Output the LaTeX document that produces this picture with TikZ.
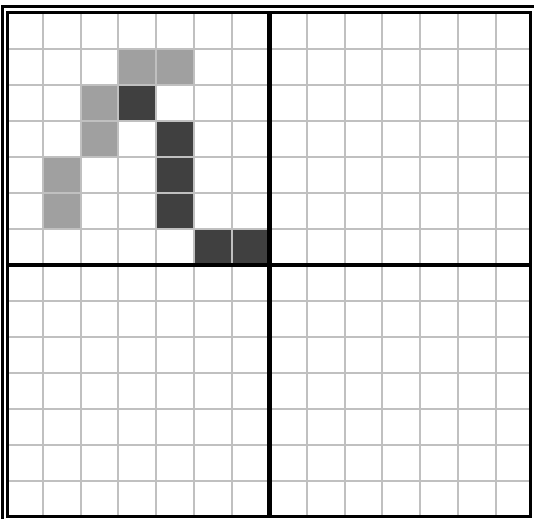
\documentclass[tikz,border=0pt]{standalone}
\definecolor{gridc}{HTML}{C0C0C0}
\definecolor{lightc}{HTML}{A0A0A0}
\definecolor{darkc}{HTML}{404040}
\tikzset{
  gridline/.style={draw=gridc, line width=2pt},
  axisline/.style={draw=black, line width=4.8pt},
  framebox/.style={draw=black, line width=3pt},
  lightcell/.style={fill=lightc},
  darkcell/.style={fill=darkc}
}
\begin{document}
\begin{tikzpicture}[x=1pt,y=-1pt]
\useasboundingbox (0,0) rectangle (534,518);
\clip (0,0) rectangle (534,518);
\fill[white] (0,0) rectangle (534,518);
\def\xo{5.06}\def\dx{37.74}\def\yo{13}\def\dy{36}
% filled cells
\foreach \c/\r in {3/1,4/1,2/2,2/3,1/4,1/5}
  \path[lightcell] ({\xo+\c*\dx},{\yo+\r*\dy}) rectangle ++(\dx,\dy);
\foreach \c/\r in {3/2,4/3,4/4,4/5,5/6,6/6}
  \path[darkcell] ({\xo+\c*\dx},{\yo+\r*\dy}) rectangle ++(\dx,\dy);
% grid
\foreach \i in {1,...,13} {
  \draw[gridline] ({\xo+\i*\dx},12.5) -- ({\xo+\i*\dx},517);
  \draw[gridline] (7.5,{\yo+\i*\dy}) -- (530.5,{\yo+\i*\dy});
}
% axes
\draw[axisline] ({\xo+7*\dx},12.5) -- ({\xo+7*\dx},517);
\draw[axisline] (7.5,{\yo+7*\dy}) -- (530.5,{\yo+7*\dy});
% frames
\draw[framebox] (7.5,12.5) rectangle (530.5,516.8);
\draw[framebox] (2.5,6.5) rectangle (545,530);
\end{tikzpicture}
\end{document}
